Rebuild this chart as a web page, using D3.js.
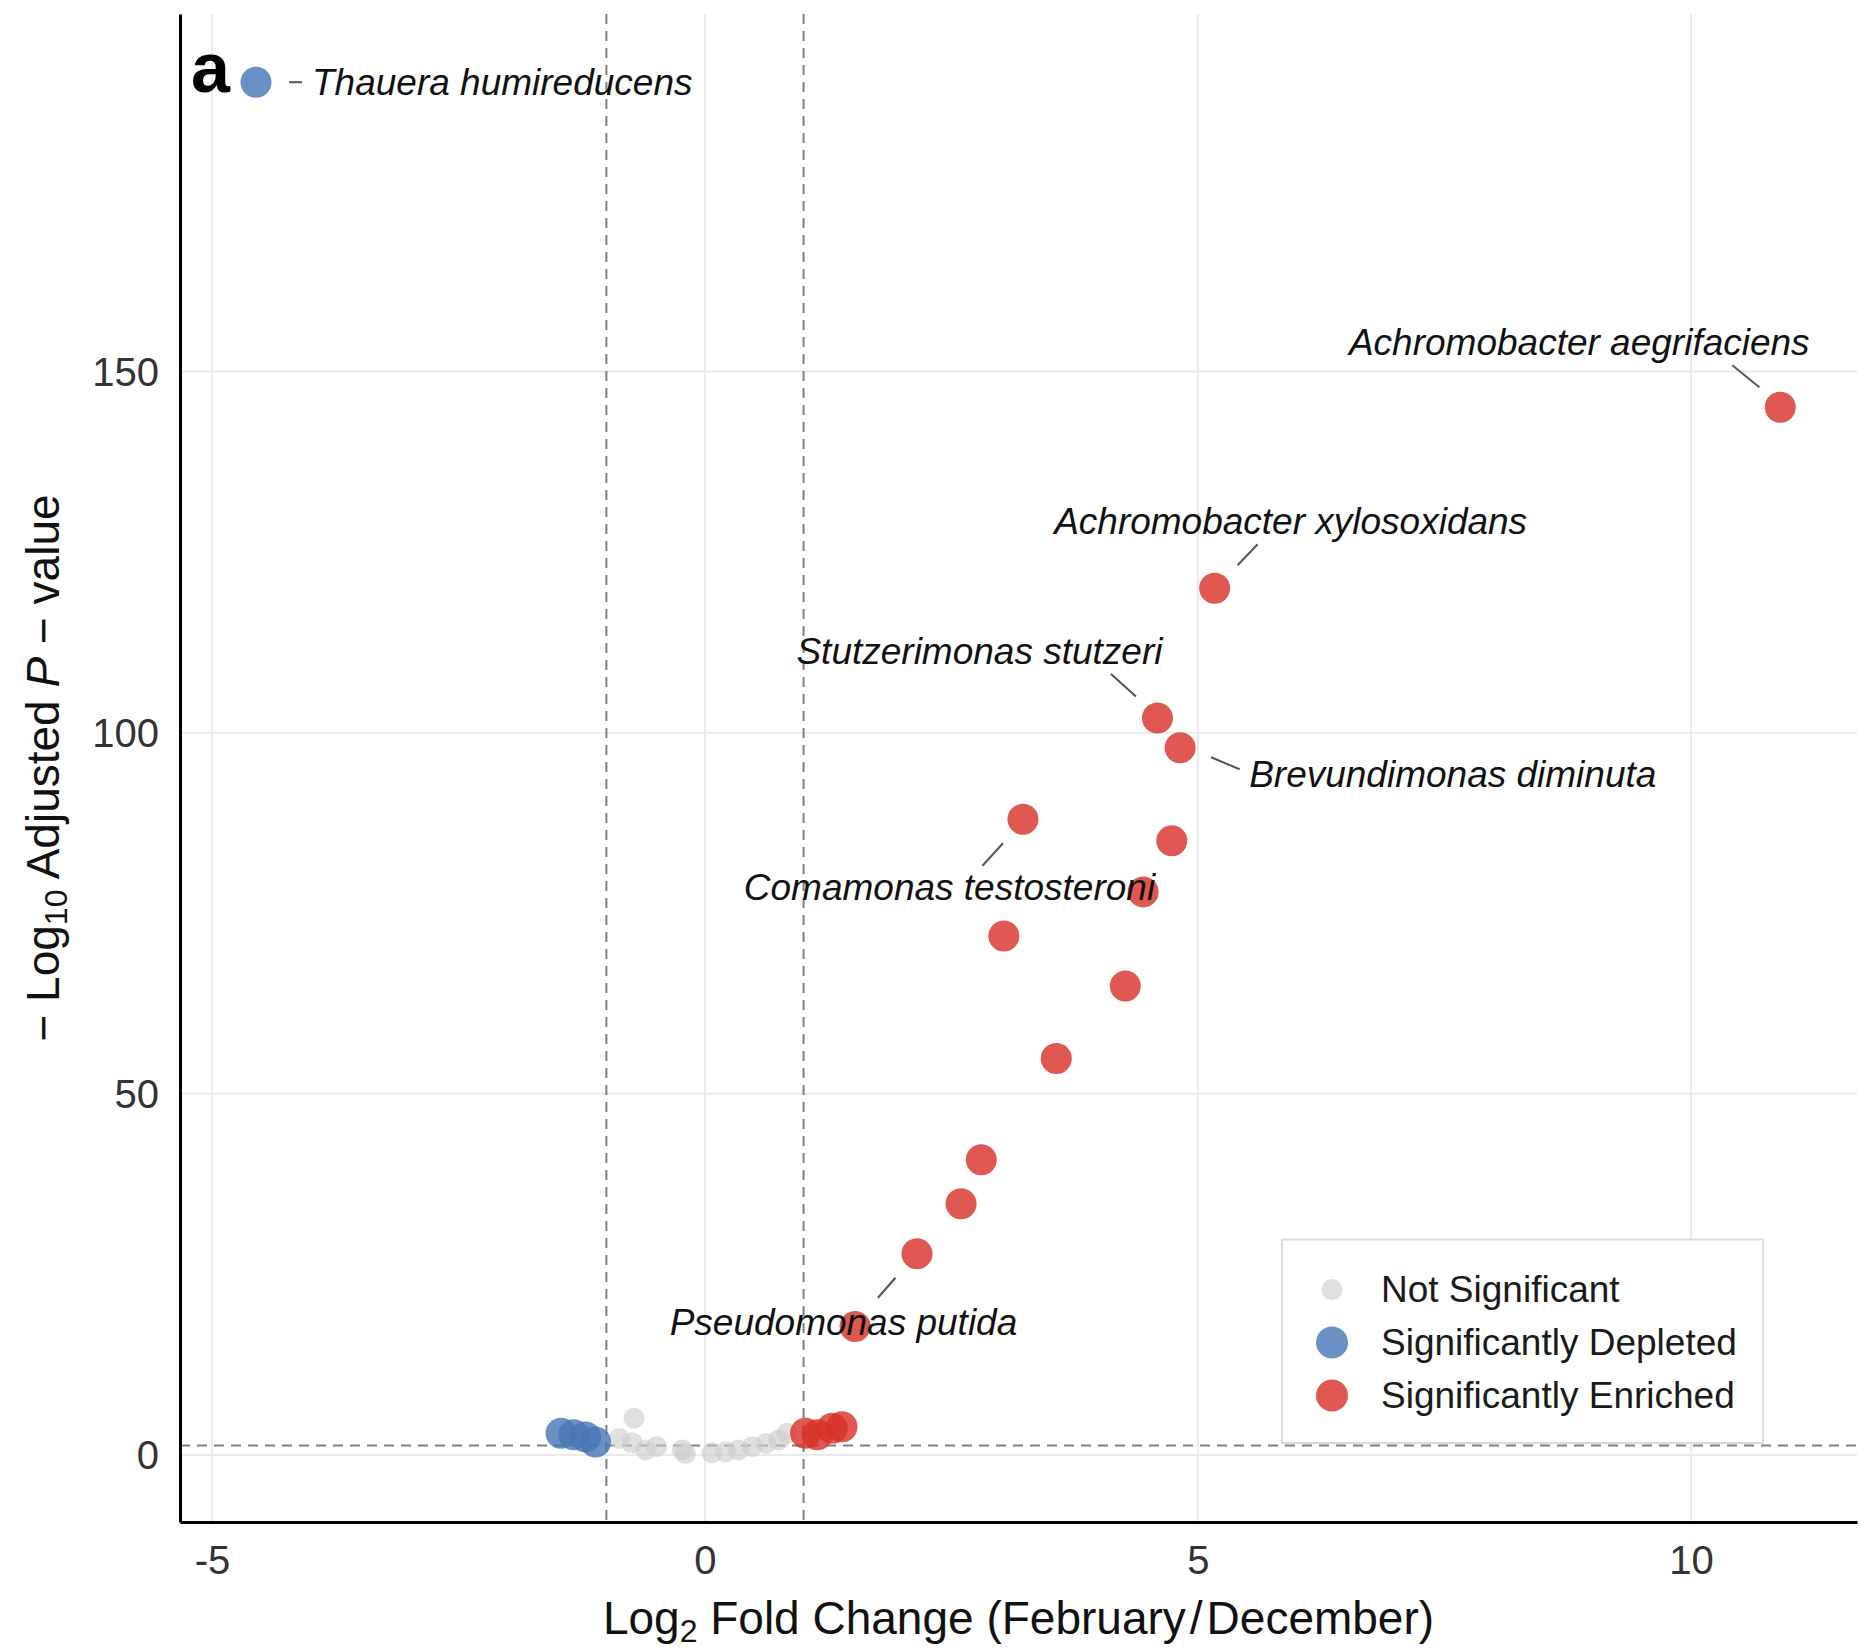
<!DOCTYPE html>
<html><head><meta charset="utf-8">
<script src="https://cdn.jsdelivr.net/npm/d3@7"></script>
<style>body{margin:0;background:#fff} svg{display:block}</style>
</head><body><svg id="chart" width="1867" height="1651"></svg>
<script>
// ---------------- data ----------------
const xTicks = [-5, 0, 5, 10];
const yTicks = [0, 50, 100, 150];
const fcCutoffs = [-1, 1];
const pCutoff = 1.30103; // -log10(0.05)

const notSigFC = [-0.87, -0.74, -0.72, -0.60, -0.49, -0.23, -0.20, 0.07, 0.21, 0.34, 0.48, 0.62, 0.75, 0.83];
const notSigP  = [ 2.3,   1.7,   5.1,   0.7,   1.15,  0.7,   0.2,  0.3,  0.45, 0.7,  1.15, 1.6,  2.1,  3.0];

const depletedFC   = [-4.554, -1.46, -1.33, -1.21, -1.11];
const depletedP    = [190.06,  3.0,   2.8,   2.5,   1.8];
const depletedName = ["Thauera humireducens", "", "", "", ""];

const enrichedFC   = [1.02, 1.14, 1.29, 1.39, 1.522, 2.150, 2.597, 2.802, 3.563, 4.263, 3.031, 4.444, 4.734, 3.225, 4.819, 4.589, 5.169, 10.906];
const enrichedP    = [3.0,  2.8,  3.7,  3.9,  17.80, 27.86, 34.78, 40.88, 54.89, 64.94, 71.86, 77.96, 85.05, 88.02, 97.91, 102.03, 119.99, 145.05];
const enrichedName = ["", "", "", "", "", "Pseudomonas putida", "", "", "", "", "", "", "", "Comamonas testosteroni",
                      "Brevundimonas diminuta", "Stutzerimonas stutzeri", "Achromobacter xylosoxidans", "Achromobacter aegrifaciens"];

const legendLabels = ["Not Significant", "Significantly Depleted", "Significantly Enriched"];

// ---------------- layout / style ----------------
const W = 1867, H = 1651;
const plot = {left: 180, right: 1857, top: 14, bottom: 1522};
const FONT = "'Liberation Sans', Arial, Helvetica, sans-serif";
const colors = {ns: "#cccccc", dep: "#4575b4", enr: "#d73027"};
const opac = {ns: 0.6, dep: 0.8, enr: 0.8};
const radius = {ns: 10.5, dep: 15.5, enr: 15.5};

// label placement (pixel offsets from the point, as placed by the repel layout)
const labelLayout = {
  "Thauera humireducens":       {dx: 56,   dy: 0,   anchor: "start",  near: [33, 0],     far: [46, 0]},
  "Achromobacter aegrifaciens": {dx: -201, dy: -65.5, anchor: "middle", near: [-21, -20], far: [-48, -42]},
  "Achromobacter xylosoxidans": {dx: 76,   dy: -67, anchor: "middle", near: [23, -23],   far: [43, -44]},
  "Stutzerimonas stutzeri":     {dx: -178, dy: -67, anchor: "middle", near: [-21.5, -21.5], far: [-46.5, -44]},
  "Brevundimonas diminuta":     {dx: 69,   dy: 26,  anchor: "start",  near: [31, 9.5],   far: [59.5, 21.5]},
  "Comamonas testosteroni":     {dx: -73.5, dy: 68, anchor: "middle", near: [-20, 24],   far: [-40.5, 46.5]},
  "Pseudomonas putida":         {dx: -73.5, dy: 68, anchor: "middle", near: [-21.5, 24], far: [-39, 44]}
};

const svg = d3.select("#chart");
svg.append("rect").attr("width", W).attr("height", H).attr("fill", "#fff");

const x = d3.scaleLinear().domain([-5.3245, 11.684]).range([plot.left, plot.right]);
const y = d3.scaleLinear().domain([-9.276, 199.5]).range([plot.bottom, plot.top]);

// grid
const grid = svg.append("g");
grid.selectAll("line.vx").data(xTicks).join("line")
  .attr("x1", d => x(d)).attr("x2", d => x(d)).attr("y1", plot.top).attr("y2", plot.bottom)
  .attr("stroke", "#ebebeb").attr("stroke-width", 2);
grid.selectAll("line.hy").data(yTicks).join("line")
  .attr("y1", d => y(d)).attr("y2", d => y(d)).attr("x1", plot.left).attr("x2", plot.right)
  .attr("stroke", "#ebebeb").attr("stroke-width", 2);

// cutoff lines
const cut = svg.append("g").attr("stroke", "#808080").attr("stroke-width", 2).attr("stroke-dasharray", "10,7");
cut.selectAll("line.v").data(fcCutoffs).join("line")
  .attr("x1", d => x(d)).attr("x2", d => x(d)).attr("y1", plot.top).attr("y2", plot.bottom);
cut.append("line").attr("x1", plot.left).attr("x2", plot.right).attr("y1", y(pCutoff)).attr("y2", y(pCutoff));

// points
const ns = notSigFC.map((v, i) => ({fc: v, p: notSigP[i], name: ""}));
const dep = depletedFC.map((v, i) => ({fc: v, p: depletedP[i], name: depletedName[i]}));
const enr = enrichedFC.map((v, i) => ({fc: v, p: enrichedP[i], name: enrichedName[i]}));

function drawPts(data, key) {
  svg.append("g").selectAll("circle").data(data).join("circle")
    .attr("cx", d => x(d.fc)).attr("cy", d => y(d.p)).attr("r", radius[key])
    .attr("fill", colors[key]).attr("fill-opacity", opac[key]);
}
drawPts(ns, "ns");
drawPts(dep, "dep");
drawPts(enr, "enr");

// labels
const labeled = dep.concat(enr).filter(d => d.name);
const lg = svg.append("g");
lg.selectAll("line").data(labeled).join("line")
  .attr("x1", d => x(d.fc) + labelLayout[d.name].near[0])
  .attr("y1", d => y(d.p) + labelLayout[d.name].near[1])
  .attr("x2", d => x(d.fc) + labelLayout[d.name].far[0])
  .attr("y2", d => y(d.p) + labelLayout[d.name].far[1])
  .attr("stroke", "#555").attr("stroke-width", 2);
lg.selectAll("text").data(labeled).join("text")
  .attr("x", d => x(d.fc) + labelLayout[d.name].dx)
  .attr("y", d => y(d.p) + labelLayout[d.name].dy)
  .attr("dy", "0.35em")
  .attr("text-anchor", d => labelLayout[d.name].anchor)
  .attr("font-family", FONT).attr("font-style", "italic").attr("font-size", 37)
  .attr("fill", "#111")
  .text(d => d.name);

// axes
const xAxis = svg.append("g").attr("transform", `translate(0,${plot.bottom})`)
  .call(d3.axisBottom(x).tickValues(xTicks).tickSize(0).tickSizeOuter(0).tickFormat(d => String(d)));
xAxis.select(".domain").attr("stroke", "#000").attr("stroke-width", 3);
xAxis.selectAll("text").attr("y", 38).attr("dy", "0.35em")
  .attr("font-family", FONT).attr("font-size", 40).attr("fill", "#333");

const yAxis = svg.append("g").attr("transform", `translate(${plot.left},0)`)
  .call(d3.axisLeft(y).tickValues(yTicks).tickSize(0).tickSizeOuter(0).tickPadding(21).tickFormat(d => String(d)));
yAxis.select(".domain").attr("stroke", "#000").attr("stroke-width", 3);
yAxis.selectAll("text").attr("dy", "0.35em")
  .attr("font-family", FONT).attr("font-size", 40).attr("fill", "#333");

// axis titles
const xt = svg.append("text").attr("x", (plot.left + plot.right) / 2).attr("y", 1634)
  .attr("text-anchor", "middle").attr("font-family", FONT).attr("font-size", 46).attr("fill", "#111");
xt.append("tspan").text("Log");
xt.append("tspan").attr("font-size", 32).attr("dy", 8).text("2");
xt.append("tspan").attr("dy", -8).text(" Fold Change (February");
xt.append("tspan").attr("dx", 4).text("/");
xt.append("tspan").attr("dx", 4).text("December)");

const yt = svg.append("text").attr("transform", `translate(59,${(plot.top + plot.bottom) / 2}) rotate(-90)`)
  .attr("text-anchor", "middle").attr("font-family", FONT).attr("font-size", 46).attr("fill", "#111");
yt.append("tspan").text("\u2212 Log");
yt.append("tspan").attr("font-size", 32).attr("dy", 8).text("10");
yt.append("tspan").attr("dy", -8).text(" Adjusted ");
yt.append("tspan").attr("font-style", "italic").text("P");
yt.append("tspan").text(" \u2212 value");

// panel tag
svg.append("text").attr("x", 191).attr("y", 92).attr("font-family", FONT)
  .attr("font-weight", "bold").attr("font-size", 70).attr("fill", "#000").text("a");

// legend
const leg = svg.append("g");
leg.append("rect").attr("x", 1282).attr("y", 1239.5).attr("width", 481).attr("height", 203.5)
  .attr("fill", "#fff").attr("stroke", "#dcdcdc").attr("stroke-width", 2);
const legKeys = ["ns", "dep", "enr"];
const legItems = leg.selectAll("g.item").data(legendLabels).join("g")
  .attr("transform", (d, i) => `translate(1332,${1289.5 + i * 53})`);
legItems.append("circle").attr("r", (d, i) => legKeys[i] === "ns" ? 10.5 : 16)
  .attr("fill", (d, i) => colors[legKeys[i]]).attr("fill-opacity", (d, i) => opac[legKeys[i]]);
legItems.append("text").attr("x", 49).attr("dy", "0.35em")
  .attr("font-family", FONT).attr("font-size", 37).attr("fill", "#1a1a1a").text(d => d);
</script>
</body></html>
